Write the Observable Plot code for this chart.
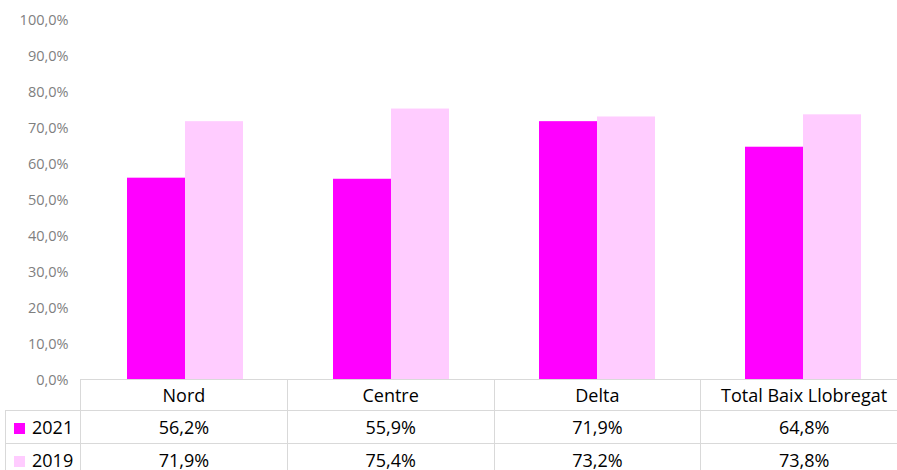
<!DOCTYPE html>
<html><head><meta charset="utf-8">
<script src="https://cdn.jsdelivr.net/npm/d3@7"></script>
<script src="https://cdn.jsdelivr.net/npm/@observablehq/plot@0.6"></script>
<style>
body{margin:0;background:#fff;font-family:"Open Sans",Lato,sans-serif;}
#wrap{position:relative;width:897px;height:470px;overflow:hidden;background:#fff;}
#wrap svg{position:absolute;left:0;top:0;}
table{position:absolute;left:5px;top:379px;border-collapse:collapse;table-layout:fixed;width:902px;font-size:18px;color:#000;font-family:"Open Sans",Lato,sans-serif;}
td{border:1px solid #d9d9d9;text-align:center;padding:0;white-space:nowrap;overflow:hidden;}
td.blank{border:none;}
td.leg{text-align:left;padding-left:8px;}
.sw{display:inline-block;width:11px;height:11px;margin-right:7px;vertical-align:0px;}
tr.h td{height:30px;}
tr.r td{height:32px;}
</style></head><body><div id="wrap"></div>
<script>
const categories = ["Nord", "Centre", "Delta", "Total Baix Llobregat"];
const series = ["2021", "2019"];
const values2021 = [56.2, 55.9, 71.9, 64.8];
const values2019 = [71.9, 75.4, 73.2, 73.8];
const colors = ["#ff00ff", "#ffccff"];
const yTicks = [0, 10, 20, 30, 40, 50, 60, 70, 80, 90, 100];

const fmt = v => v.toFixed(1).replace(".", ",") + "%";
const seriesValues = [values2021, values2019];
const data = categories.flatMap((c, i) => series.map((s, j) => ({cat: c, year: s, value: seriesValues[j][i]})));

const chart = Plot.plot({
  width: 897, height: 392,
  marginTop: 20, marginBottom: 12, marginLeft: 80, marginRight: 0,
  style: {fontFamily: "'Open Sans', Lato, sans-serif", fontSize: "14.5px", color: "#7f7f7f", background: "transparent"},
  fx: {domain: categories, range: [80, 907], padding: 0, axis: null},
  x: {domain: series, paddingInner: 0, paddingOuter: 0.767, axis: null},
  y: {domain: [0, 100], axis: null},
  color: {domain: series, range: colors},
  marks: [
    Plot.axisY(yTicks, {tickSize: 0, tickPadding: 14, tickFormat: fmt, label: null, fill: "#7f7f7f", fontSize: 14.5}),
    Plot.barY(data, {fx: "cat", x: "year", y: "value", fill: "year"})
  ]
});
const wrap = document.getElementById("wrap");
wrap.appendChild(chart);

// data table below the chart
const table = document.createElement("table");
const cg = document.createElement("colgroup");
[75, 206.75, 206.75, 206.75, 206.75].forEach(w => { const c = document.createElement("col"); c.style.width = w + "px"; cg.appendChild(c); });
table.appendChild(cg);
const hr = document.createElement("tr"); hr.className = "h";
const blank = document.createElement("td"); blank.className = "blank"; hr.appendChild(blank);
categories.forEach(c => { const td = document.createElement("td"); td.textContent = c; hr.appendChild(td); });
table.appendChild(hr);
series.forEach((s, j) => {
  const tr = document.createElement("tr"); tr.className = "r";
  const lg = document.createElement("td"); lg.className = "leg";
  const sw = document.createElement("span"); sw.className = "sw"; sw.style.background = colors[j];
  lg.appendChild(sw); lg.appendChild(document.createTextNode(s));
  tr.appendChild(lg);
  seriesValues[j].forEach(v => { const td = document.createElement("td"); td.textContent = fmt(v); tr.appendChild(td); });
  table.appendChild(tr);
});
wrap.appendChild(table);
</script>
</body></html>
